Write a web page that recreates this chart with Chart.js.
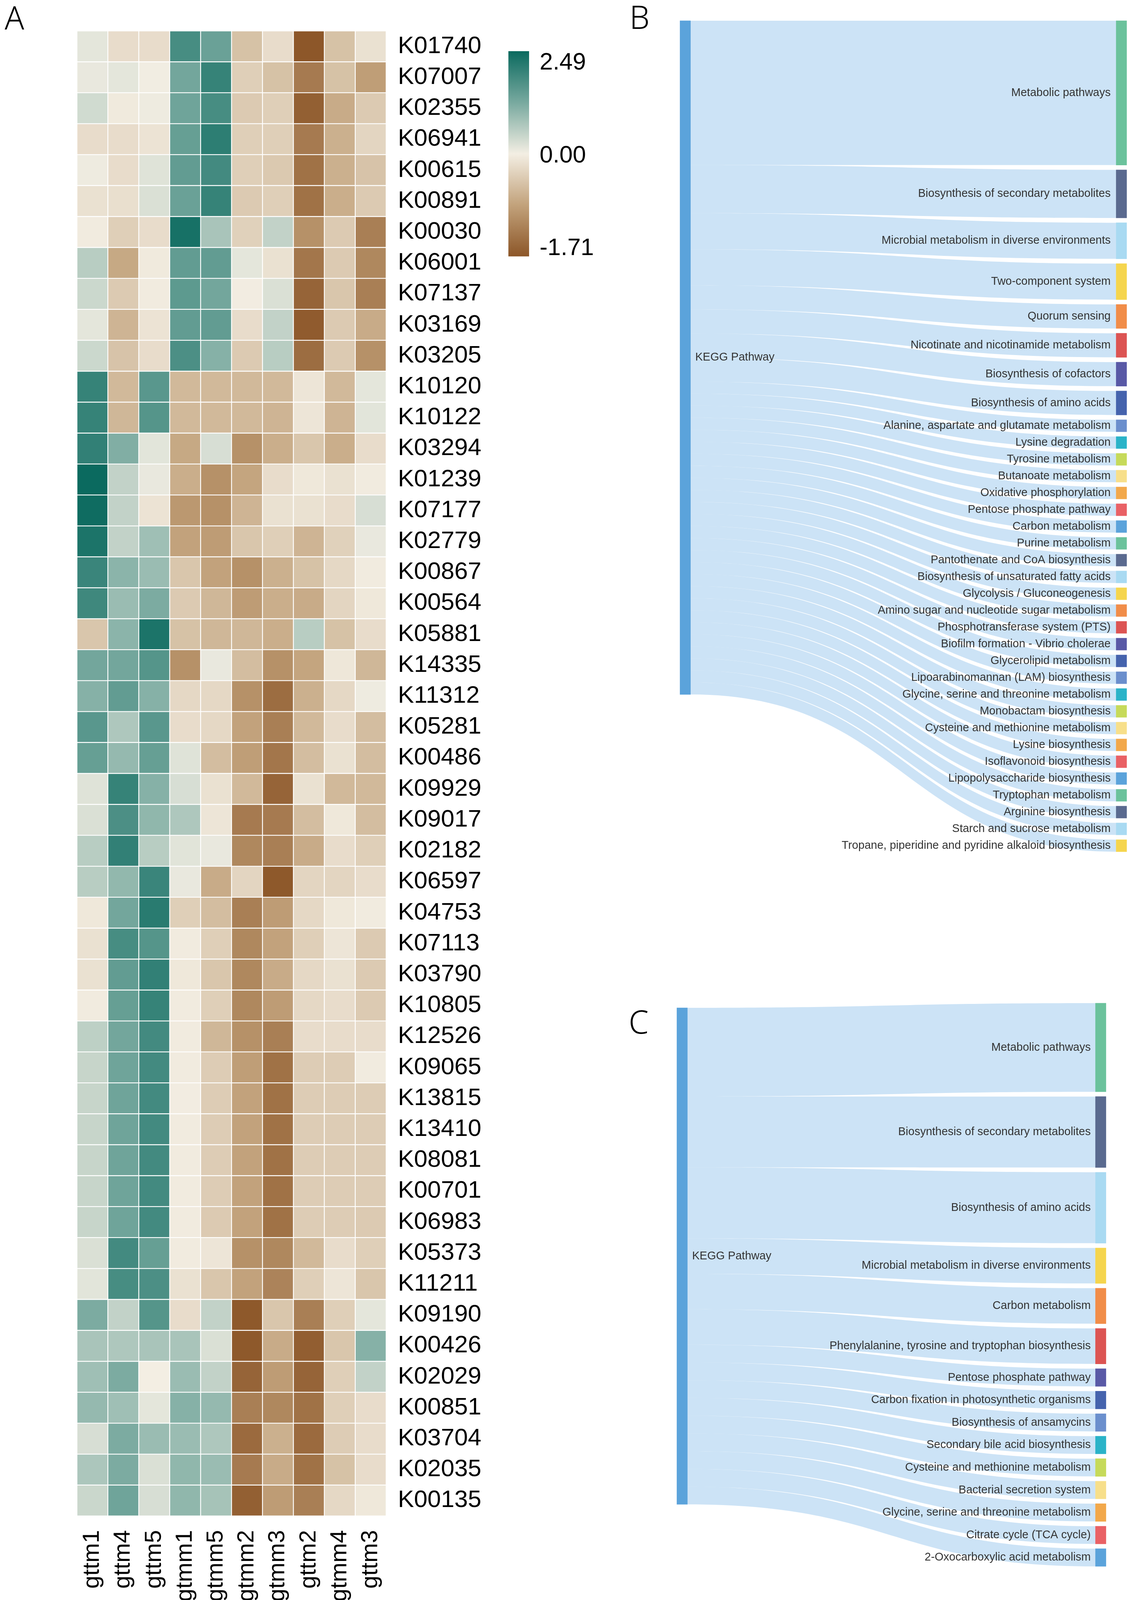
<!DOCTYPE html>
<html lang="en">
<head>
<meta charset="UTF-8">
<title>KO heatmap and KEGG pathway Sankey</title>
<script src="https://cdn.jsdelivr.net/npm/chart.js"></script>
<style>
  body { margin: 0; background: #fff; width: 2894px; height: 4116px; position: relative; overflow: hidden; }
  canvas { position: absolute; }
  .tag { position: absolute; font-family: "Noto Sans", "DejaVu Sans", sans-serif; font-weight: 300; font-size: 82px; line-height: 1; color: #000; }
</style>
</head>
<body>
<div class="tag" style="left:12px; top:2px">A</div>
<div class="tag" style="left:1612px; top:1px">B</div>
<div class="tag" style="left:1610px; top:2573px">C</div>
<canvas id="heat" width="1300" height="4116" style="left:0; top:0"></canvas>
<canvas id="scale" width="400" height="720" style="left:1260px; top:0"></canvas>
<canvas id="sankeyB" width="1294" height="2250" style="left:1600px; top:0"></canvas>
<canvas id="sankeyC" width="1294" height="1616" style="left:1600px; top:2500px"></canvas>

<script>
// ---- heatmap data (A) ----
const colLabels = ['gttm1', 'gttm4', 'gttm5', 'gtmm1', 'gtmm5', 'gtmm2', 'gtmm3', 'gttm2', 'gtmm4', 'gttm3'];
const rowLabels = [
    'K01740', 'K07007', 'K02355', 'K06941', 'K00615', 'K00891', 'K00030', 'K06001',
    'K07137', 'K03169', 'K03205', 'K10120', 'K10122', 'K03294', 'K01239', 'K07177',
    'K02779', 'K00867', 'K00564', 'K05881', 'K14335', 'K11312', 'K05281', 'K00486',
    'K09929', 'K09017', 'K02182', 'K06597', 'K04753', 'K07113', 'K03790', 'K10805',
    'K12526', 'K09065', 'K13815', 'K13410', 'K08081', 'K00701', 'K06983', 'K05373',
    'K11211', 'K09190', 'K00426', 'K02029', 'K00851', 'K03704', 'K02035', 'K00135'
];
const heatValues = [
    [0.15, -0.2, -0.2, 1.8, 1.4, -0.5, -0.2, -1.7, -0.5, -0.15],
    [0.1, 0.15, 0.02, 1.3, 2.0, -0.35, -0.5, -1.3, -0.5, -0.9],
    [0.35, -0.05, 0.05, 1.35, 1.8, -0.4, -0.35, -1.6, -0.75, -0.4],
    [-0.2, -0.2, -0.12, 1.45, 2.1, -0.35, -0.35, -1.3, -0.7, -0.28],
    [0.05, -0.2, 0.2, 1.5, 1.85, -0.35, -0.42, -1.4, -0.7, -0.48],
    [-0.15, -0.17, 0.25, 1.4, 2.0, -0.4, -0.35, -1.4, -0.72, -0.4],
    [-0.03, -0.35, -0.2, 2.35, 0.75, -0.33, 0.5, -1.05, -0.4, -1.25],
    [0.6, -0.78, -0.05, 1.5, 1.5, 0.15, -0.15, -1.35, -0.4, -1.15],
    [0.4, -0.4, -0.03, 1.55, 1.3, -0.02, 0.25, -1.55, -0.45, -1.25],
    [0.15, -0.65, -0.12, 1.5, 1.5, -0.2, 0.5, -1.65, -0.4, -0.75],
    [0.4, -0.48, -0.2, 1.75, 1.1, -0.4, 0.6, -1.45, -0.4, -1.05],
    [2.0, -0.6, 1.6, -0.6, -0.6, -0.6, -0.6, -0.1, -0.6, 0.15],
    [2.0, -0.62, 1.65, -0.6, -0.6, -0.6, -0.65, -0.1, -0.65, 0.17],
    [2.05, 1.15, 0.17, -0.78, 0.28, -1.05, -0.72, -0.45, -0.72, -0.2],
    [2.49, 0.5, 0.1, -0.72, -1.05, -0.82, -0.2, -0.07, -0.15, -0.03],
    [2.45, 0.5, -0.12, -0.97, -1.05, -0.65, -0.15, -0.15, -0.2, 0.28],
    [2.3, 0.5, 0.85, -0.85, -0.92, -0.45, -0.35, -0.65, -0.33, 0.1],
    [1.95, 1.05, 0.9, -0.45, -0.85, -1.05, -0.7, -0.5, -0.25, -0.03],
    [1.9, 0.9, 1.2, -0.4, -0.62, -0.92, -0.72, -0.75, -0.28, -0.07],
    [-0.45, 1.05, 2.3, -0.5, -0.62, -0.62, -0.72, 0.6, -0.5, -0.2],
    [1.3, 1.3, 1.65, -1.05, 0.1, -0.55, -1.05, -0.82, -0.08, -0.62],
    [1.1, 1.5, 1.1, -0.25, -0.25, -1.05, -1.45, -0.7, -0.25, 0.05],
    [1.6, 0.7, 1.6, -0.2, -0.25, -0.85, -1.25, -0.6, -0.2, -0.55],
    [1.45, 0.95, 1.45, 0.2, -0.55, -0.9, -1.35, -0.55, -0.15, -0.55],
    [0.2, 2.0, 1.1, 0.28, -0.15, -0.6, -1.55, -0.15, -0.6, -0.6],
    [0.25, 1.75, 1.0, 0.7, -0.1, -1.3, -1.3, -0.55, -0.07, -0.55],
    [0.6, 2.05, 0.6, 0.18, 0.1, -1.15, -1.25, -0.75, -0.2, -0.35],
    [0.6, 0.98, 1.95, 0.1, -0.75, -0.28, -1.68, -0.28, -0.28, -0.2],
    [-0.07, 1.3, 2.15, -0.35, -0.55, -1.25, -0.92, -0.25, -0.07, -0.03],
    [-0.15, 1.8, 1.65, -0.03, -0.35, -1.15, -0.85, -0.35, -0.1, -0.4],
    [-0.15, 1.5, 2.05, -0.07, -0.45, -1.15, -0.75, -0.25, -0.15, -0.4],
    [-0.03, 1.45, 2.0, -0.03, -0.35, -1.15, -0.92, -0.25, -0.2, -0.4],
    [0.55, 1.3, 1.85, -0.03, -0.62, -1.05, -1.25, -0.2, -0.2, -0.2],
    [0.45, 1.35, 1.85, -0.03, -0.38, -0.9, -1.4, -0.38, -0.38, -0.03],
    [0.45, 1.35, 1.85, -0.02, -0.38, -0.85, -1.4, -0.38, -0.38, -0.38],
    [0.45, 1.35, 1.85, -0.03, -0.38, -0.85, -1.4, -0.38, -0.38, -0.38],
    [0.45, 1.35, 1.85, -0.03, -0.38, -0.85, -1.4, -0.38, -0.38, -0.38],
    [0.45, 1.35, 1.85, -0.03, -0.38, -0.85, -1.4, -0.38, -0.38, -0.38],
    [0.45, 1.35, 1.85, -0.03, -0.4, -0.85, -1.4, -0.38, -0.38, -0.4],
    [0.25, 1.85, 1.45, -0.03, -0.1, -1.05, -1.15, -0.6, -0.2, -0.35],
    [0.17, 1.8, 1.75, -0.15, -0.45, -0.85, -1.2, -0.35, -0.1, -0.45],
    [1.2, 0.5, 1.65, -0.2, 0.5, -1.68, -0.45, -1.25, -0.35, 0.15],
    [0.75, 0.7, 0.75, 0.75, 0.25, -1.68, -0.75, -1.62, -0.45, 1.1],
    [0.85, 1.2, 0.0, 0.9, 0.5, -1.55, -0.92, -1.55, -0.35, 0.5],
    [0.95, 0.85, 0.15, 1.1, 0.95, -1.25, -1.15, -1.4, -0.35, -0.2],
    [0.28, 1.2, 0.9, 0.9, 0.7, -1.48, -0.7, -1.48, -0.38, -0.2],
    [0.72, 1.2, 0.25, 1.0, 0.9, -1.3, -0.75, -1.4, -0.5, -0.2],
    [0.42, 1.35, 0.28, 1.0, 0.78, -1.6, -0.92, -1.25, -0.25, -0.07]
];

// colour key
const scaleMin = -1.71;
const scaleMax = 2.49;
const scaleLabels = ['-1.71', '0.00', '2.49'];
const scaleStops = [[0, '#8c5628'], [0.25, '#c2a27b'], [0.5, '#f3eee3'], [0.75, '#78a99f'], [1, '#0b6a5f']];

// ---- sankey data (B, C) ----
const sourceName = 'KEGG Pathway';
const pathwaysB = [
    'Metabolic pathways', 'Biosynthesis of secondary metabolites', 'Microbial metabolism in diverse environments',
    'Two-component system', 'Quorum sensing', 'Nicotinate and nicotinamide metabolism', 'Biosynthesis of cofactors',
    'Biosynthesis of amino acids', 'Alanine, aspartate and glutamate metabolism', 'Lysine degradation',
    'Tyrosine metabolism', 'Butanoate metabolism', 'Oxidative phosphorylation', 'Pentose phosphate pathway',
    'Carbon metabolism', 'Purine metabolism', 'Pantothenate and CoA biosynthesis',
    'Biosynthesis of unsaturated fatty acids', 'Glycolysis / Gluconeogenesis',
    'Amino sugar and nucleotide sugar metabolism', 'Phosphotransferase system (PTS)',
    'Biofilm formation - Vibrio cholerae', 'Glycerolipid metabolism', 'Lipoarabinomannan (LAM) biosynthesis',
    'Glycine, serine and threonine metabolism', 'Monobactam biosynthesis', 'Cysteine and methionine metabolism',
    'Lysine biosynthesis', 'Isoflavonoid biosynthesis', 'Lipopolysaccharide biosynthesis', 'Tryptophan metabolism',
    'Arginine biosynthesis', 'Starch and sucrose metabolism', 'Tropane, piperidine and pyridine alkaloid biosynthesis'
];
const countsB = [12, 4, 3, 3, 2, 2, 2, 2, 1, 1, 1, 1, 1, 1, 1, 1, 1, 1, 1, 1, 1, 1, 1, 1, 1, 1, 1, 1, 1, 1, 1, 1, 1, 1];

const pathwaysC = [
    'Metabolic pathways', 'Biosynthesis of secondary metabolites', 'Biosynthesis of amino acids',
    'Microbial metabolism in diverse environments', 'Carbon metabolism',
    'Phenylalanine, tyrosine and tryptophan biosynthesis', 'Pentose phosphate pathway',
    'Carbon fixation in photosynthetic organisms', 'Biosynthesis of ansamycins', 'Secondary bile acid biosynthesis',
    'Cysteine and methionine metabolism', 'Bacterial secretion system', 'Glycine, serine and threonine metabolism',
    'Citrate cycle (TCA cycle)', '2-Oxocarboxylic acid metabolism'
];
const countsC = [5, 4, 4, 2, 2, 2, 1, 1, 1, 1, 1, 1, 1, 1, 1];

const nodePalette = ['#5ba3db', '#6bc29c', '#5a6a8f', '#a9daf2', '#f5d54e', '#f18d49', '#dc5453', '#5959a6',
                     '#4563ad', '#6b8fcd', '#2ab3c8', '#c6da5a', '#f7df8a', '#f2a84b', '#e96165'];

Chart.defaults.font.family = '"Liberation Sans", Arial, sans-serif';
Chart.defaults.animation = false;
Chart.defaults.plugins.legend.display = false;
Chart.defaults.plugins.tooltip.enabled = false;

function hexToRgb(h) {
    return [1, 3, 5].map(i => parseInt(h.slice(i, i + 2), 16));
}

function rampColor(t) {
    for (let i = 1; i < scaleStops.length; i++) {
        const [p0, c0] = scaleStops[i - 1];
        const [p1, c1] = scaleStops[i];
        if (t <= p1) {
            const f = (t - p0) / (p1 - p0);
            const a = hexToRgb(c0), b = hexToRgb(c1);
            return 'rgb(' + a.map((x, k) => Math.round(x + (b[k] - x) * f)).join(',') + ')';
        }
    }
    return scaleStops[scaleStops.length - 1][1];
}

function heatColor(v) {
    const t = v >= 0 ? 0.5 + 0.5 * v / scaleMax : 0.5 - 0.5 * v / scaleMin;
    return rampColor(Math.max(0, Math.min(1, t)));
}

// heatmap: every row is a dataset of floating bars [row, row + 1]
new Chart(document.getElementById('heat'), {
    type: 'bar',
    data: {
        labels: colLabels,
        datasets: heatValues.map((row, r) => ({
            label: rowLabels[r],
            data: row.map(() => [r, r + 1]),
            backgroundColor: row.map(heatColor),
            borderColor: '#ffffff',
            borderWidth: 1.5,
            borderSkipped: false,
            grouped: false,
            categoryPercentage: 1,
            barPercentage: 1
        }))
    },
    options: {
        responsive: false,
        layout: { padding: { left: 197, top: 79, right: 0, bottom: 0 } },
        scales: {
            x: {
                grid: { display: false, drawTicks: false },
                border: { display: false },
                ticks: { color: '#000', font: { size: 60 }, minRotation: 90, maxRotation: 90, padding: 36, autoSkip: false },
                afterFit(s) { s.height = 235; }
            },
            y: {
                position: 'right',
                min: 0,
                max: rowLabels.length,
                reverse: true,
                grid: { display: false, drawTicks: false },
                border: { display: false },
                afterBuildTicks(s) { s.ticks = rowLabels.map((_, i) => ({ value: i + 0.5 })); },
                ticks: { color: '#000', font: { size: 62 }, padding: 30, autoSkip: false,
                         callback: v => rowLabels[Math.floor(v)] },
                afterFit(s) { s.width = 311; }
            }
        }
    }
});

// colour key: one bar filled with the same ramp, labels at bottom / middle / top
const keyLo = -0.084, keyHi = 2.126;
new Chart(document.getElementById('scale'), {
    type: 'bar',
    data: {
        labels: [''],
        datasets: [{
            data: [[keyLo, keyHi]],
            backgroundColor(ctx) {
                const area = ctx.chart.chartArea;
                if (!area) return scaleStops[2][1];
                const g = ctx.chart.ctx.createLinearGradient(0, area.bottom, 0, area.top);
                scaleStops.forEach(([p, c]) => g.addColorStop(p, c));
                return g;
            },
            borderWidth: 0,
            categoryPercentage: 1,
            barPercentage: 1
        }]
    },
    options: {
        responsive: false,
        layout: { padding: { left: 42, top: 131, bottom: 62, right: 0 } },
        scales: {
            x: { display: false },
            y: {
                position: 'right',
                min: keyLo,
                max: keyHi,
                grid: { display: false, drawTicks: false },
                border: { display: false },
                afterBuildTicks(s) { s.ticks = scaleLabels.map((_, i) => ({ value: i })); },
                ticks: { color: '#000', font: { size: 61 }, padding: 27, callback: (v, i) => scaleLabels[i] },
                afterFit(s) { s.width = 305; }
            }
        }
    }
});

// sankey: one source node on the left, target nodes stacked on the right
function drawSankey(id, pathways, counts, box) {
    const gap = box.gapPx / box.unitPx;
    const total = counts.reduce((a, b) => a + b, 0);
    const targets = [];
    let acc = 0;
    counts.forEach(c => { targets.push([acc, acc + c]); acc += c + gap; });
    const span = acc - gap;
    const shift = box.shiftPx / box.unitPx;
    const nodes = [{ x: 0, y: [shift, shift + total] }].concat(targets.map(t => ({ x: 1, y: t })));
    const bw = 27;
    const canvas = document.getElementById(id);
    const bottomPad = canvas.height - box.top - span * box.unitPx;

    const flows = {
        id: 'flows',
        beforeDatasetsDraw(chart) {
            const { ctx, scales: { x, y } } = chart;
            const xs = x.getPixelForValue(0) + bw / 2;
            const xe = x.getPixelForValue(1) - bw / 2;
            const cx = (xs + xe) / 2;
            let s = shift;
            ctx.save();
            ctx.fillStyle = 'rgba(153, 199, 238, 0.5)';
            counts.forEach((c, i) => {
                const s0 = y.getPixelForValue(s), s1 = y.getPixelForValue(s + c);
                const t0 = y.getPixelForValue(targets[i][0]), t1 = y.getPixelForValue(targets[i][1]);
                ctx.beginPath();
                ctx.moveTo(xs, s0);
                ctx.bezierCurveTo(cx, s0, cx, t0, xe, t0);
                ctx.lineTo(xe, t1);
                ctx.bezierCurveTo(cx, t1, cx, s1, xs, s1);
                ctx.closePath();
                ctx.fill();
                s += c;
            });
            ctx.restore();
        },
        afterDatasetsDraw(chart) {
            const { ctx, scales: { x, y } } = chart;
            ctx.save();
            ctx.font = '29px "Liberation Sans", Arial, sans-serif';
            ctx.fillStyle = '#333333';
            ctx.textBaseline = 'middle';
            ctx.textAlign = 'left';
            ctx.fillText(sourceName, x.getPixelForValue(0) + bw / 2 + 12,
                         y.getPixelForValue(shift + total / 2));
            ctx.textAlign = 'right';
            pathways.forEach((p, i) => {
                ctx.fillText(p, x.getPixelForValue(1) - bw / 2 - box.labelGap,
                             y.getPixelForValue((targets[i][0] + targets[i][1]) / 2));
            });
            ctx.restore();
        }
    };

    new Chart(canvas, {
        type: 'bar',
        data: {
            datasets: [{
                data: nodes,
                backgroundColor: nodes.map((_, i) => nodePalette[i % nodePalette.length]),
                borderWidth: 0,
                barThickness: bw,
                grouped: false,
                clip: false
            }]
        },
        options: {
            responsive: false,
            layout: { padding: { left: box.left, right: box.right, top: box.top, bottom: bottomPad } },
            scales: {
                x: { type: 'linear', min: 0, max: 1, offset: false, display: false },
                y: { type: 'linear', min: 0, max: span, reverse: true, display: false }
            }
        },
        plugins: [flows]
    });
}

drawSankey('sankeyB', pathwaysB, countsB, { left: 155, right: 22, top: 53, unitPx: 30.8, gapPx: 12.2, shiftPx: 0, labelGap: 14 });
drawSankey('sankeyC', pathwaysC, countsC, { left: 147, right: 75, top: 68, unitPx: 45.4, gapPx: 12.2, shiftPx: 12, labelGap: 12 });
</script>
</body>
</html>
